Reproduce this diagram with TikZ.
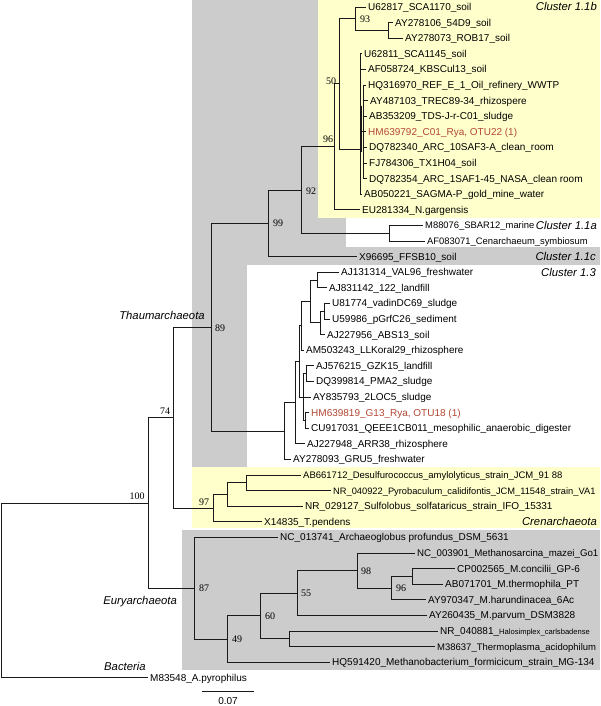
\documentclass[tikz,border=0pt]{standalone}
\usepackage{fontspec}
\setmainfont{Liberation Sans}
\newfontfamily\bootfont{Liberation Serif}
\definecolor{gbg}{RGB}{204,204,204}
\definecolor{ybg}{RGB}{255,255,204}
\definecolor{otured}{RGB}{178,72,52}
\tikzset{
  branch/.style={line width=0.9pt, black!90},
  leaf/.style={anchor=west, inner xsep=2pt, inner ysep=0pt, text height=7pt, text depth=0pt, font=\fontsize{10}{12}\selectfont},
  redleaf/.style={leaf, text=otured},
  smallleaf/.style={leaf, font=\fontsize{#1}{12}\selectfont},
  boot/.style={inner sep=0pt, text height=6.6pt, text depth=0pt, font=\bootfont\fontsize{10}{12}\selectfont},
  clade/.style={inner sep=0pt, text height=7.8pt, text depth=0pt, font=\fontsize{11.3}{13}\selectfont\itshape}
}
\begin{document}
\begin{tikzpicture}[x=1pt,y=-1pt]
\useasboundingbox (0,0) rectangle (600,706);
\fill[white] (0,0) rectangle (600,706);
% backgrounds
\fill[gbg] (192,0) rectangle (600,467);
\fill[ybg] (318,0) rectangle (600,218);
\fill[white] (346,218) rectangle (600,247);
\fill[white] (247,265) rectangle (600,467);
\fill[ybg] (192,467) rectangle (600,528);
\fill[gbg] (182,529.5) rectangle (600,670);

% leaves
\node[leaf] (t0) at (366,7.0) {U62817\_SCA1170\_soil};
\node[leaf] (t1) at (393,22.6) {AY278106\_54D9\_soil};
\node[leaf] (t2) at (403,38.2) {AY278073\_ROB17\_soil};
\node[leaf] (t3) at (362,53.8) {U62811\_SCA1145\_soil};
\node[leaf] (t4) at (366,69.4) {AF058724\_KBSCul13\_soil};
\node[leaf] (t5) at (366,85.0) {HQ316970\_REF\_E\_1\_Oil\_refinery\_WWTP};
\node[leaf] (t6) at (368,100.6) {AY487103\_TREC89-34\_rhizospere};
\node[leaf] (t7) at (367,116.2) {AB353209\_TDS-J-r-C01\_sludge};
\node[redleaf] (t8) at (366,131.8) {HM639792\_C01\_Rya, OTU22 (1)};
\node[leaf] (t9) at (367,147.4) {DQ782340\_ARC\_10SAF3-A\_clean\_room};
\node[leaf] (t10) at (367,163.0) {FJ784306\_TX1H04\_soil};
\node[leaf] (t11) at (367,178.6) {DQ782354\_ARC\_1SAF1-45\_NASA\_clean room};
\node[leaf] (t12) at (362,194.2) {AB050221\_SAGMA-P\_gold\_mine\_water};
\node[leaf] (t13) at (360,209.8) {EU281334\_N.gargensis};
\node[smallleaf=9.4] (t14) at (423,225.4) {M88076\_SBAR12\_marine};
\node[smallleaf=9.4] (t15) at (425,241.0) {AF083071\_Cenarchaeum\_symbiosum};
\node[leaf] (t16) at (357,256.6) {X96695\_FFSB10\_soil};
\node[leaf] (t17) at (339,272.2) {AJ131314\_VAL96\_freshwater};
\node[leaf] (t18) at (327,287.8) {AJ831142\_122\_landfill};
\node[leaf] (t19) at (330,303.4) {U81774\_vadinDC69\_sludge};
\node[leaf] (t20) at (330,319.0) {U59986\_pGrfC26\_sediment};
\node[leaf] (t21) at (325,334.6) {AJ227956\_ABS13\_soil};
\node[leaf] (t22) at (304,350.2) {AM503243\_LLKoral29\_rhizosphere};
\node[leaf] (t23) at (314,365.8) {AJ576215\_GZK15\_landfill};
\node[leaf] (t24) at (314,381.4) {DQ399814\_PMA2\_sludge};
\node[leaf] (t25) at (311,397.0) {AY835793\_2LOC5\_sludge};
\node[redleaf] (t26) at (309,412.6) {HM639819\_G13\_Rya, OTU18 (1)};
\node[leaf] (t27) at (309,428.2) {CU917031\_QEEE1CB011\_mesophilic\_anaerobic\_digester};
\node[leaf] (t28) at (305,443.8) {AJ227948\_ARR38\_rhizosphere};
\node[leaf] (t29) at (291,459.4) {AY278093\_GRU5\_freshwater};
\node[smallleaf=9.5] (t30) at (301,475.0) {AB661712\_Desulfurococcus\_amylolyticus\_strain\_JCM\_91 88};
\node[smallleaf=9.3] (t31) at (331,490.6) {NR\_040922\_Pyrobaculum\_calidifontis\_JCM\_11548\_strain\_VA1};
\node[leaf] (t32) at (303,506.2) {NR\_029127\_Sulfolobus\_solfataricus\_strain\_IFO\_15331};
\node[leaf] (t33) at (262,521.8) {X14835\_T.pendens};
\node[leaf] (t34) at (278,537.4) {NC\_013741\_Archaeoglobus profundus\_DSM\_5631};
\node[smallleaf=9.7] (t35) at (415,553.0) {NC\_003901\_Methanosarcina\_mazei\_Go1};
\node[leaf] (t36) at (455,568.6) {CP002565\_M.concilii\_GP-6};
\node[leaf] (t37) at (443,584.2) {AB071701\_M.thermophila\_PT};
\node[leaf] (t38) at (426,599.8) {AY970347\_M.harundinacea\_6Ac};
\node[leaf] (t39) at (427,615.4) {AY260435\_M.parvum\_DSM3828};
\node[leaf] (t40) at (438,631.0) {NR\_040881\_{\fontsize{7.6}{9}\selectfont Halosimplex\_carlsbadense}};
\node[smallleaf=9.5] (t41) at (435,646.6) {M38637\_Thermoplasma\_acidophilum};
\node[leaf] (t42) at (330,662.2) {HQ591420\_Methanobacterium\_formicicum\_strain\_MG-134};
\node[leaf] (t43) at (148,677.8) {M83548\_A.pyrophilus};

% internal nodes
\coordinate (n93s) at (388,30.4);
\coordinate (n93) at (355,18.7);
\coordinate (nB) at (363,131.8);
\coordinate (nA) at (360,149);
\coordinate (n50) at (339,83.9);
\coordinate (n96) at (334,146.8);
\coordinate (n11a) at (389,233.2);
\coordinate (n92) at (301,190);
\coordinate (n99) at (268,223.3);
\coordinate (nE) at (317,280);
\coordinate (nF) at (324,311.2);
\coordinate (nH) at (320,322.9);
\coordinate (nG) at (310,301.5);
\coordinate (nU) at (301,325.8);
\coordinate (nW1) at (306,373.6);
\coordinate (nW2) at (305,420.4);
\coordinate (nV) at (303,397);
\coordinate (nT) at (299,361.4);
\coordinate (nS) at (295,402.6);
\coordinate (nR) at (284,431);
\coordinate (n89) at (211,327.2);
\coordinate (nL) at (246,482.8);
\coordinate (nK) at (227,494.5);
\coordinate (n97) at (213,508.2);
\coordinate (n74) at (173,417.7);
\coordinate (nM) at (412,576.4);
\coordinate (n96e) at (391,588.1);
\coordinate (n98) at (357,570.5);
\coordinate (n55) at (297,593);
\coordinate (nHT) at (289,638.8);
\coordinate (n60) at (260,615.9);
\coordinate (n49) at (227,639);
\coordinate (n87) at (194,588.2);
\coordinate (n100) at (148,503);
\coordinate (root) at (1,590);
\coordinate (thk1) at (361.6,106);
\coordinate (thk2) at (361.6,152);

% branches
\draw[branch] (n93s) |- (t1); \draw[branch] (n93s) |- (t2);
\draw[branch] (n93) |- (t0); \draw[branch] (n93) |- (n93s);
\foreach \c in {t5,t6,t7,t8,t9,t10,t11} {\draw[branch] (nB) |- (\c);}
\foreach \c in {t3,t4,nB,t12} {\draw[branch] (nA) |- (\c);}
\draw[line width=1.6pt, black!90] (thk1) -- (thk2);
\draw[branch] (n50) |- (n93); \draw[branch] (n50) |- (nA);
\draw[branch] (n96) |- (n50); \draw[branch] (n96) |- (t13);
\draw[branch] (n11a) |- (t14); \draw[branch] (n11a) |- (t15);
\draw[branch] (n92) |- (n96); \draw[branch] (n92) |- (n11a);
\draw[branch] (n99) |- (n92); \draw[branch] (n99) |- (t16);
\draw[branch] (nE) |- (t17); \draw[branch] (nE) |- (t18);
\draw[branch] (nF) |- (t19); \draw[branch] (nF) |- (t20);
\draw[branch] (nH) |- (nF); \draw[branch] (nH) |- (t21);
\draw[branch] (nG) |- (nE); \draw[branch] (nG) |- (nH);
\draw[branch] (nU) |- (nG); \draw[branch] (nU) |- (t22);
\draw[branch] (nW1) |- (t23); \draw[branch] (nW1) |- (t24);
\draw[branch] (nW2) |- (t26); \draw[branch] (nW2) |- (t27);
\draw[branch] (nV) |- (nW1); \draw[branch] (nV) |- (t25); \draw[branch] (nV) |- (nW2);
\draw[branch] (nT) |- (nU); \draw[branch] (nT) |- (nV);
\draw[branch] (nS) |- (nT); \draw[branch] (nS) |- (t28);
\draw[branch] (nR) |- (nS); \draw[branch] (nR) |- (t29);
\draw[branch] (n89) |- (n99); \draw[branch] (n89) |- (nR);
\draw[branch] (nL) |- (t30); \draw[branch] (nL) |- (t31);
\draw[branch] (nK) |- (nL); \draw[branch] (nK) |- (t32);
\draw[branch] (n97) |- (nK); \draw[branch] (n97) |- (t33);
\draw[branch] (n74) |- (n89); \draw[branch] (n74) |- (n97);
\draw[branch] (nM) |- (t36); \draw[branch] (nM) |- (t37);
\draw[branch] (n96e) |- (nM); \draw[branch] (n96e) |- (t38);
\draw[branch] (n98) |- (t35); \draw[branch] (n98) |- (n96e);
\draw[branch] (n55) |- (n98); \draw[branch] (n55) |- (t39);
\draw[branch] (nHT) |- (t40); \draw[branch] (nHT) |- (t41);
\draw[branch] (n60) |- (n55); \draw[branch] (n60) |- (nHT);
\draw[branch] (n49) |- (n60); \draw[branch] (n49) |- (t42);
\draw[branch] (n87) |- (t34); \draw[branch] (n87) |- (n49);
\draw[branch] (n100) |- (n74); \draw[branch] (n100) |- (n87);
\draw[branch] (root) |- (n100); \draw[branch] (root) |- (t43);

% bootstrap values
\node[boot] (b93) at (365,19) {93};
\node[boot] (b50) at (331,81) {50};
\node[boot] (b96a) at (328,139) {96};
\node[boot] (b92) at (311,191) {92};
\node[boot] (b99) at (278,223) {99};
\node[boot] (b89) at (220,328) {89};
\node[boot] (b74) at (165,411) {74};
\node[boot] (b100) at (137,496) {100};
\node[boot] (b97) at (204,502) {97};
\node[boot] (b87) at (204,588) {87};
\node[boot] (b49) at (237,639) {49};
\node[boot] (b60) at (270,616) {60};
\node[boot] (b55) at (306,593) {55};
\node[boot] (b98) at (366,571) {98};
\node[boot] (b96b) at (401,588) {96};

% clade labels
\node[clade, anchor=east] (c11b) at (597,7) {Cluster 1.1b};
\node[clade, anchor=east] (c11a) at (597,225.4) {Cluster 1.1a};
\node[clade, anchor=east] (c11c) at (596,256.6) {Cluster 1.1c};
\node[clade, anchor=east] (c13) at (596,272.2) {Cluster 1.3};
\node[clade, anchor=east] (cren) at (597,521.8) {Crenarchaeota};
\node[clade] (thaum) at (162,316) {Thaumarchaeota};
\node[clade, anchor=east] (eury) at (177,601) {Euryarchaeota};
\node[clade, anchor=west] (bact) at (104,667) {Bacteria};

% scale bar
\coordinate (sb1) at (202,691);
\coordinate (sb2) at (254,691);
\draw[branch] (sb1) -- (sb2);
\node[inner sep=0pt, text height=7pt, text depth=0pt, font=\fontsize{10}{12}\selectfont] (sbl) at (228,701) {0.07};
\end{tikzpicture}
\end{document}
